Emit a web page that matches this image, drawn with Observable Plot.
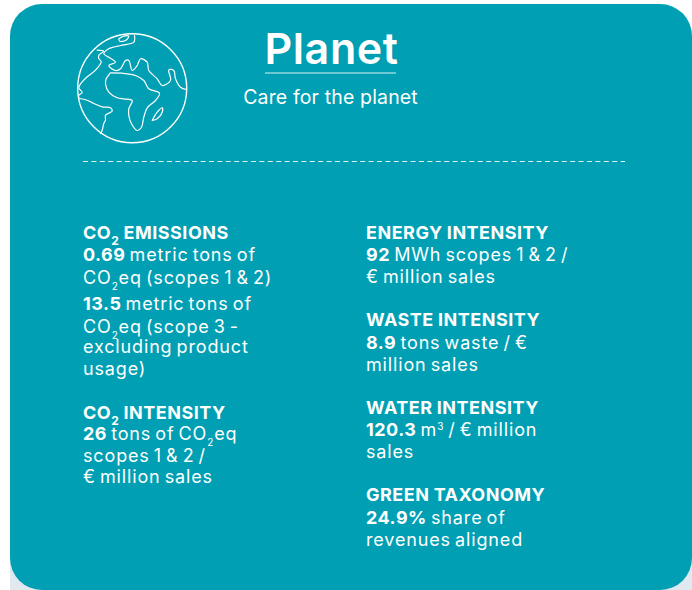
<!DOCTYPE html>
<html><head><meta charset="utf-8">
<style>html,body{margin:0;padding:0;background:#fff}
.body text{letter-spacing:.85px;word-spacing:-1.8px}
.body tspan.b{letter-spacing:.5px;word-spacing:-.5px}
.title text{letter-spacing:.6px}
.sub text{letter-spacing:.15px}
</style>
<script src="https://cdn.jsdelivr.net/npm/d3@7"></script>
<script src="https://cdn.jsdelivr.net/npm/@observablehq/plot@0.6"></script>
</head><body><div id="chart"></div>
<script>
// Text content. **bold**, ~subscript~, ^superscript^
const title = "Planet";
const subtitle = "Care for the planet";
const leftLines = [
  "**CO~2~ EMISSIONS**",
  "**0.69** metric tons of",
  "CO~2~eq (scopes 1 & 2)",
  "**13.5** metric tons of",
  "CO~2~eq (scope 3 -",
  "excluding product",
  "usage)",
  "**CO~2~ INTENSITY**",
  "**26** tons of CO~2~eq",
  "scopes 1 & 2 /",
  "€ million sales"
];
const rightLines = [
  "**ENERGY INTENSITY**",
  "**92** MWh scopes 1 & 2 /",
  "€ million sales",
  "**WASTE INTENSITY**",
  "**8.9** tons waste / €",
  "million sales",
  "**WATER INTENSITY**",
  "**120.3** m^3^ / € million",
  "sales",
  "**GREEN TAXONOMY**",
  "**24.9%** share of",
  "revenues aligned"
];
// Globe outlines
const coastNorth = [[96.7,49.7],[103,50.7],[98.3,54.7],[98.3,58],[100.7,61.3],[95,69.7],[86.7,76.3],[81.7,81.3],[78.3,87.3],[81.7,92],[78.3,94.7],[78.3,98]];
const coastSouth = [[78.3,98],[86.7,99.7],[93.3,103],[101.7,106.3],[110,107.3],[111.7,110.7],[105,114.7],[105,119.7],[103.3,123],[101.7,129.7],[100,133]];
const eurasia = [[134,35],[133.3,41.7],[120,45],[108.3,48.3],[103.3,53.3],[108.3,56.7],[115,61.7],[108.3,65],[115,70],[120,68.3],[125,60],[128.3,60],[131.7,70],[136.7,65],[140,58.3],[146.7,61.7],[148.3,70],[156.7,78.3],[161.7,85],[170,80],[168.3,69.3],[173.3,70],[175,78.3],[180,86.7],[186,89]];
const islandTop = [[118.3,38.3],[123.3,35.7],[128.3,35.7],[125,40],[119.3,40.7],[118.3,38.3]];
const africa = [[110,72.3],[121.7,72.7],[135,75],[143.3,80],[148.3,88.3],[159,92.7],[155,100],[146.7,107.3],[143.3,116.7],[141,126.7],[136.7,130],[131,123.3],[128.3,115],[128.3,108.3],[131.7,100],[123.3,98.3],[116.7,97.3],[108.3,91.7],[105,83.3],[105.7,78.3],[110,72.3]];
const madagascar = [[151.7,120],[156.7,111.7],[161.7,107.3],[161.7,111.7],[156.7,118.3],[151.7,120]];

// Layout (page pixels, kept apart from the data)
const W = 692, H = 590;
const leftY = [238,260,283,309,332,352,374,418,439,461,482];
const rightY = [238,260.5,282.5,325.5,348,370,413,435.5,457,500.5,523,545];
const teal = "#009fb3", pale = "#dcf1f4", ink = "#ffffff", corner = "#dfe9ef";
const font = "Inter, 'Noto Sans', sans-serif";

const coasts = [coastNorth, coastSouth, eurasia, islandTop, africa, madagascar]
  .flatMap((c, i) => c.map(([x, y]) => ({x, y, i})));

const colText = (lines, x, ys) => Plot.text(lines, {
  x: () => x, y: (_, i) => ys[i], text: d => d, className: "body",
  textAnchor: "start", lineAnchor: "bottom", fontSize: 18, fill: ink
});

const svg = Plot.plot({
  width: W, height: H, margin: 0,
  style: {background: "#fff", fontFamily: font},
  x: {domain: [0, W], range: [0, W], axis: null},
  y: {domain: [0, H], range: [0, H], axis: null},
  marks: [
    Plot.rect([0, 1], {x1: (d) => d ? 650 : 10, x2: (d) => d ? W : 60, y1: () => 540, y2: () => H, fill: corner}),
    Plot.rect([0], {x1: () => 10, x2: () => W, y1: () => 4, y2: () => H, r: 32, fill: teal}),
    Plot.dot([0], {x: () => 131.7, y: () => 87.7, r: 54.5, stroke: ink, strokeWidth: 1.4, fill: "none"}),
    Plot.line(coasts, {x: "x", y: "y", z: "i", curve: "catmull-rom", stroke: ink, strokeWidth: 1.2}),
    Plot.text([title], {x: () => 331, y: () => 63, text: d => d, className: "title", lineAnchor: "bottom", fontSize: 43, fontWeight: 600, fill: ink}),
    Plot.ruleY([72.5], {x1: 265, x2: 396, stroke: pale, strokeWidth: 1.2}),
    Plot.text([subtitle], {x: () => 330, y: () => 103, text: d => d, className: "sub", lineAnchor: "bottom", fontSize: 19.5, fill: ink}),
    Plot.ruleY([161], {x1: 83, x2: 625, stroke: pale, strokeWidth: 1.1, strokeDasharray: "5,3.4"}),
    colText(leftLines, 82.5, leftY),
    colText(rightLines, 365.5, rightY)
  ]
});

// Turn the lightweight markup into styled tspans, keeping real text
d3.select(svg).selectAll("text").each(function () {
  const raw = this.textContent;
  if (!/[*~^]/.test(raw)) return;
  const el = d3.select(this);
  el.text(null);
  let bold = false, mode = null, shift = 0;
  raw.split(/(\*\*|~|\^)/).forEach(tok => {
    if (tok === "**") { bold = !bold; return; }
    if (tok === "~") { mode = mode === "sub" ? null : "sub"; return; }
    if (tok === "^") { mode = mode === "sup" ? null : "sup"; return; }
    if (!tok) return;
    const target = mode === "sub" ? 6 : mode === "sup" ? -6 : 0;
    const s = el.append("tspan").text(tok).attr("dy", target - shift);
    shift = target;
    if (bold) s.attr("font-weight", 700).attr("class", "b");
    if (mode) s.attr("font-size", bold ? 12 : 10);
  });
});
document.getElementById("chart").appendChild(svg);
</script></body></html>
